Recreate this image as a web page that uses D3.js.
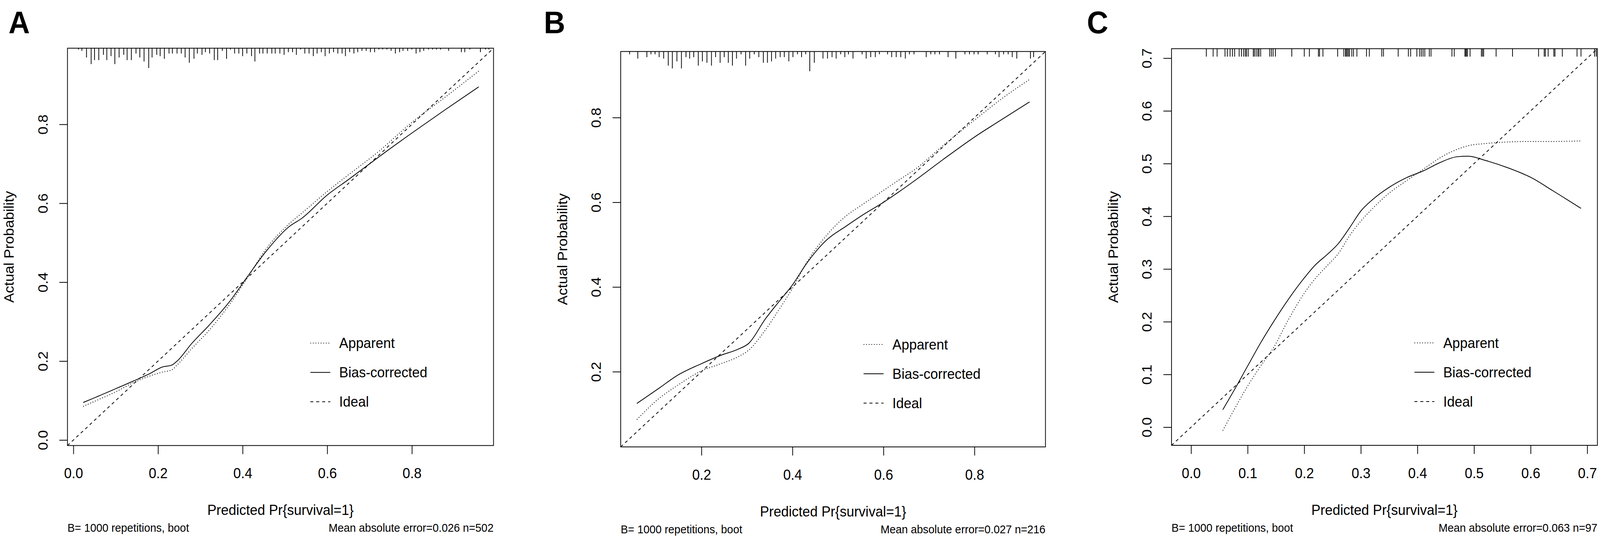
<!DOCTYPE html>
<html>
<head>
<meta charset="utf-8">
<script src="https://cdn.jsdelivr.net/npm/d3@7/dist/d3.min.js"></script>
<style>
html,body{margin:0;padding:0;background:#fff;overflow:hidden;}
#chart{display:block;width:100vw;height:100vh;}
text{font-family:"Liberation Sans",Arial,sans-serif;fill:#000;}
</style>
</head>
<body>
<svg id="chart" viewBox="0 0 4328 1376" preserveAspectRatio="none"></svg>
<script>
// ---- panel A (n=502)
var aLim = [-0.014, 0.993];
var aTicks = [0, 0.2, 0.4, 0.6, 0.8];
var aX        = [0.023,0.05,0.1,0.143,0.18,0.21,0.233,0.245,0.28,0.32,0.37,0.41,0.456,0.51,0.54,0.6,0.65,0.72,0.8,0.88,0.958];
var aApparent = [0.085,0.098,0.122,0.146,0.162,0.172,0.178,0.19,0.232,0.277,0.345,0.409,0.485,0.548,0.575,0.63,0.672,0.73,0.805,0.87,0.935];
var aBias     = [0.095,0.107,0.13,0.15,0.168,0.185,0.19,0.2,0.245,0.29,0.352,0.412,0.479,0.541,0.562,0.621,0.66,0.716,0.778,0.838,0.895];
var aRugX = [0.012,0.020,0.031,0.042,0.050,0.060,0.071,0.079,0.089,0.098,
    0.108,0.119,0.127,0.137,0.148,0.157,0.167,0.178,0.186,0.197,
    0.205,0.215,0.226,0.234,0.245,0.255,0.264,0.274,0.285,0.293,
    0.304,0.312,0.322,0.333,0.341,0.352,0.362,0.371,0.381,0.391,
    0.400,0.410,0.421,0.429,0.440,0.448,0.458,0.469,0.477,0.488,
    0.498,0.508,0.518,0.527,0.537,0.547,0.557,0.567,0.576,0.586,
    0.595,0.605,0.615,0.625,0.635,0.643,0.653,0.663,0.672,0.682,
    0.692,0.702,0.712,0.722,0.731,0.741,0.751,0.761,0.771,0.779,
    0.790,0.800,0.810,0.819,0.828,0.839,0.849,0.858,0.868,0.887,
    0.917,0.925,0.937,0.962,0.974,0.982];
var aRugN = [1,2,7,12,9,9,5,9,6,12, 7,5,9,9,4,7,10,15,7,5, 6,8,4,4,4,4,7,11,8,4,
    5,3,4,9,9,2,8,1,4,4, 6,4,6,10,4,4,4,4,4,4, 5,
    3,3,5,1,4,4,6,4,3,6, 4,3,4,4,6,3,4,3,2,2, 3,3,1,1,1,2,4,3,2,2,
    1,4,3,2,1,1,1,1,2,3, 3,1,3,1,1];
var aNote = "Mean absolute error=0.026 n=502";

// ---- panel B (n=216)
var bLim = [0.0225, 0.956];
var bTicks = [0.2, 0.4, 0.6, 0.8];
var bX        = [0.058,0.108,0.145,0.2,0.243,0.28,0.304,0.34,0.37,0.4,0.43,0.475,0.517,0.55,0.6,0.633,0.671,0.731,0.8,0.858,0.921];
var bApparent = [0.087,0.138,0.166,0.202,0.219,0.235,0.251,0.298,0.346,0.397,0.456,0.522,0.567,0.592,0.628,0.652,0.679,0.734,0.794,0.843,0.89];
var bBias     = [0.125,0.162,0.19,0.219,0.239,0.253,0.267,0.324,0.365,0.405,0.454,0.511,0.543,0.567,0.6,0.624,0.653,0.701,0.754,0.794,0.837];
var bRugX = [0.042,0.060,0.080,0.089,0.098,0.107,0.117,0.127,0.136,0.146,
    0.156,0.166,0.174,0.183,0.193,0.202,0.212,0.222,0.231,0.241,
    0.250,0.259,0.268,0.277,0.287,0.297,0.306,0.316,0.326,0.336,
    0.345,0.354,0.363,0.373,0.382,0.392,0.401,0.411,0.420,0.429,
    0.438,0.448,0.467,0.477,0.487,0.496,0.506,0.515,0.523,0.533,
    0.553,0.562,0.572,0.582,0.591,0.609,0.618,0.628,0.638,0.648,
    0.657,0.667,0.694,0.704,0.713,0.723,0.742,0.759,0.779,0.789,
    0.799,0.808,0.828,0.846,0.854,0.864,0.874,0.883,0.893,0.923,
    0.930];
var bRugN = [2,5,4,2,2,4,5,10,12,7, 12,4,5,4,10,7,8,10,4,8, 4,8,10,5,2,10,5,2,4,8,
    8,7,5,4,4,7,4,2,4,2, 14,8,5,5,4,5,2,4,2,5, 2,5,4,4,2,2,4,4,4,5,
    2,2,4,2,2,2,4,5,2,2, 2,2,2,2,4,2,2,4,5,5, 4];
var bNote = "Mean absolute error=0.027 n=216";

// ---- panel C (n=97)
var cLim = [-0.0345, 0.718];
var cTicks = [0, 0.1, 0.2, 0.3, 0.4, 0.5, 0.6, 0.7];
var cX        = [0.056,0.075,0.1,0.123,0.147,0.171,0.2,0.218,0.242,0.26,0.28,0.3,0.32,0.35,0.38,0.41,0.44,0.47,0.49,0.52,0.56,0.6,0.64,0.689];
var cApparent = [-0.0065,0.031,0.078,0.116,0.153,0.202,0.254,0.28,0.308,0.329,0.363,0.391,0.414,0.444,0.467,0.489,0.511,0.527,0.534,0.538,0.541,0.542,0.542,0.543];
var cBias     = [0.033,0.068,0.116,0.16,0.202,0.241,0.283,0.306,0.329,0.348,0.378,0.41,0.431,0.455,0.473,0.486,0.502,0.513,0.514,0.506,0.492,0.474,0.448,0.415];
var cRugX = [0.027,0.039,0.046,0.060,0.064,0.069,0.073,0.077,0.085,0.089,
    0.093,0.096,0.098,0.101,0.110,0.112,0.115,0.118,0.120,0.123,
    0.139,0.142,0.145,0.149,0.178,0.200,0.209,0.225,0.227,0.233,
    0.259,0.270,0.273,0.274,0.276,0.278,0.280,0.284,0.287,0.293,
    0.310,0.315,0.337,0.340,0.366,0.384,0.388,0.399,0.404,0.407,
    0.410,0.413,0.421,0.424,0.461,0.465,0.484,0.485,0.487,0.488,
    0.493,0.513,0.515,0.517,0.539,0.568,0.614,0.624,0.626,0.631,
    0.641,0.643,0.656,0.682,0.689,0.713,0.716];
var cNote = "Mean absolute error=0.063 n=97";

var legendLabels = ["Apparent", "Bias-corrected", "Ideal"];
var legendDash = ["2,5", null, "8,8"];

var FONT = '"Liberation Sans", Arial, sans-serif';

var panels = [
    {tag:"A", tagX:23, left:182.5, right:1335, top:123.3, bottom:1139.5,
     lim:aLim, ticks:aTicks, xs:aX, app:aApparent, bias:aBias, rugX:aRugX, rugN:aRugN, rugFrac:0.05, note:aNote},
    {tag:"B", tagX:1471, left:1679, right:2828, top:131.7, bottom:1143,
     lim:bLim, ticks:bTicks, xs:bX, app:bApparent, bias:bBias, rugX:bRugX, rugN:bRugN, rugFrac:0.05, note:bNote},
    {tag:"C", tagX:2940, left:3169, right:4321, top:124.5, bottom:1139,
     lim:cLim, ticks:cTicks, xs:cX, app:cApparent, bias:cBias, rugX:cRugX, rugN:null, rugFrac:0.02, note:cNote}
];

function drawPanel(svg, p){
    var x = d3.scaleLinear().domain(p.lim).range([p.left, p.right]);
    var y = d3.scaleLinear().domain(p.lim).range([p.bottom, p.top]);
    var h = p.bottom - p.top;
    var g = svg.append("g");

    // rug of predicted values along the top
    var maxN = p.rugN ? d3.max(p.rugN) : 1;
    var len = d3.scaleLinear().domain([0, maxN]).range([0, p.rugFrac*h]);
    g.append("g").selectAll("line")
        .data(p.rugX)
        .enter().append("line")
        .attr("x1", function(d){return x(d);})
        .attr("x2", function(d){return x(d);})
        .attr("y1", p.top)
        .attr("y2", function(d,i){return p.top + len(p.rugN ? p.rugN[i] : 1);})
        .style("stroke","#000")
        .style("stroke-width","2px");

    // ideal line
    g.append("line")
        .attr("x1", x(p.lim[0])).attr("y1", y(p.lim[0]))
        .attr("x2", x(p.lim[1])).attr("y2", y(p.lim[1]))
        .style("stroke","#000").style("stroke-width","2px")
        .style("stroke-dasharray","8,8");

    var line = d3.line()
        .x(function(d,i){return x(p.xs[i]);})
        .y(function(d){return y(d);})
        .curve(d3.curveMonotoneX);

    g.append("path").datum(p.app)
        .attr("d", line)
        .style("fill","none").style("stroke","#000").style("stroke-width","2.2px")
        .style("stroke-dasharray","2,5");
    g.append("path").datum(p.bias)
        .attr("d", line)
        .style("fill","none").style("stroke","#000").style("stroke-width","2px");

    // box
    g.append("rect")
        .attr("x", p.left).attr("y", p.top)
        .attr("width", p.right-p.left).attr("height", h)
        .style("fill","none").style("stroke","#000").style("stroke-width","2px");

    // axes
    var xa = g.append("g")
        .attr("transform","translate(0,"+p.bottom+")")
        .call(d3.axisBottom(x).tickValues(p.ticks).tickSize(22).tickFormat(d3.format(".1f")));
    xa.select(".domain").remove();
    xa.selectAll("line").style("stroke","#000").style("stroke-width","2px");
    xa.selectAll("text")
        .attr("y", 84).attr("dy", 0)
        .style("font-family", FONT).style("font-size","37px").style("fill","#000");

    var ya = g.append("g")
        .attr("transform","translate("+p.left+",0)")
        .call(d3.axisLeft(y).tickValues(p.ticks).tickSize(22).tickFormat(d3.format(".1f")));
    ya.select(".domain").remove();
    ya.selectAll("line").style("stroke","#000").style("stroke-width","2px");
    ya.selectAll("text")
        .attr("x", 0).attr("y", -54).attr("dy", 0)
        .attr("text-anchor","middle")
        .attr("transform","rotate(-90)")
        .style("font-family", FONT).style("font-size","37px").style("fill","#000");

    // titles
    g.append("text")
        .attr("transform","translate("+(p.left-145)+","+((p.top+p.bottom)/2)+") rotate(-90)")
        .attr("text-anchor","middle")
        .style("font-size","37px")
        .text("Actual Probability");
    g.append("text")
        .attr("x", (p.left+p.right)/2).attr("y", p.bottom+178)
        .attr("text-anchor","middle")
        .style("font-size","37px")
        .text("Predicted Pr{survival=1}");
    g.append("text")
        .attr("x", p.left).attr("y", p.bottom+221)
        .style("font-size","29.5px")
        .text("B= 1000 repetitions, boot");
    g.append("text")
        .attr("x", p.right).attr("y", p.bottom+221)
        .attr("text-anchor","end")
        .style("font-size","29.5px")
        .text(p.note);

    // legend
    var lg = g.append("g").selectAll("g")
        .data(legendLabels)
        .enter().append("g")
        .attr("transform", function(d,i){return "translate("+p.left+","+(p.bottom-262+i*75)+")";});
    lg.append("line")
        .attr("x1", 657).attr("x2", 711).attr("y1", 0).attr("y2", 0)
        .style("stroke","#000").style("stroke-width","2px")
        .style("stroke-dasharray", function(d,i){return legendDash[i];});
    lg.append("text")
        .attr("x", 735).attr("y", 0).attr("dy","0.35em")
        .style("font-size","37px")
        .text(function(d){return d;});

    // panel tag
    svg.append("text")
        .attr("x", p.tagX).attr("y", 85)
        .style("font-size","80px").style("font-weight","bold")
        .text(p.tag);
}

var svg = d3.select("#chart");
for(var i = 0; i < panels.length; i++){
    drawPanel(svg, panels[i]);
}
</script>
</body>
</html>
